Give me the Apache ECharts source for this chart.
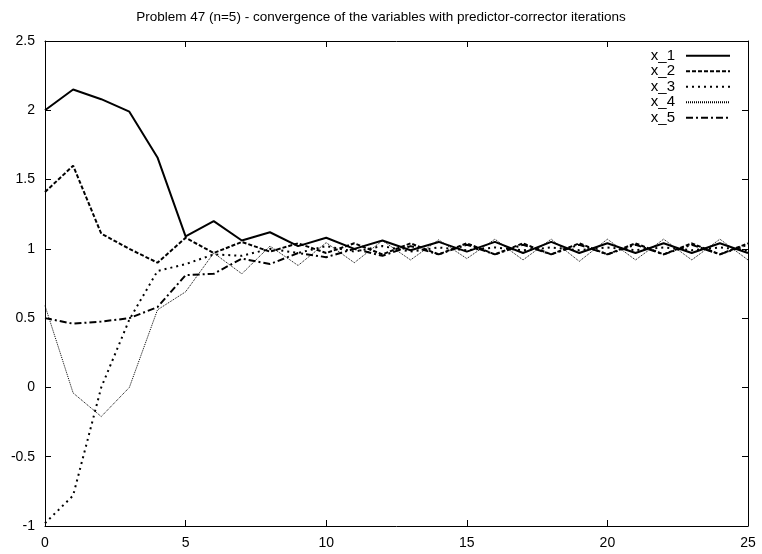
<!DOCTYPE html>
<html>
<head>
<meta charset="utf-8">
<script src="https://cdn.jsdelivr.net/npm/echarts@6/dist/echarts.min.js"></script>
<style>
  html, body { margin: 0; padding: 0; background: #fff; }
  #chart { width: 762px; height: 554px; }
</style>
</head>
<body>
<div id="chart"></div>
<script>
// iteration number
var iters = [0, 1, 2, 3, 4, 5, 6, 7, 8, 9, 10, 11, 12, 13, 14, 15, 16, 17, 18, 19, 20, 21, 22, 23, 24, 25];

// variable values
var x1 = [2.0, 2.15, 2.08, 1.99, 1.66, 1.09, 1.2, 1.06, 1.12, 1.02, 1.08, 1.0, 1.06, 0.99, 1.05, 0.98, 1.05, 0.97, 1.05, 0.97, 1.04, 0.97, 1.04, 0.97, 1.04, 0.97];
var x2 = [1.41, 1.6, 1.11, 1.0, 0.9, 1.08, 0.97, 1.05, 0.98, 1.04, 0.97, 1.04, 0.96, 1.04, 0.96, 1.04, 0.96, 1.04, 0.96, 1.04, 0.96, 1.04, 0.96, 1.04, 0.96, 1.04];
var x3 = [-0.98, -0.78, 0.0, 0.49, 0.84, 0.89, 0.96, 0.95, 1.0, 0.97, 1.02, 0.98, 1.02, 0.98, 1.01, 0.99, 1.01, 0.99, 1.01, 0.99, 1.01, 0.99, 1.01, 0.99, 1.01, 0.99];
var x4 = [0.59, -0.04, -0.21, 0.0, 0.56, 0.69, 0.97, 0.82, 1.02, 0.88, 1.045, 0.9, 1.06, 0.92, 1.065, 0.93, 1.07, 0.92, 1.07, 0.91, 1.07, 0.92, 1.07, 0.92, 1.07, 0.92];
var x5 = [0.5, 0.46, 0.475, 0.5, 0.58, 0.81, 0.82, 0.93, 0.89, 0.97, 0.94, 1.0, 0.95, 1.02, 0.96, 1.03, 0.96, 1.03, 0.96, 1.03, 0.96, 1.03, 0.96, 1.03, 0.96, 1.03];

var names = ['x_1', 'x_2', 'x_3', 'x_4', 'x_5'];

// axis ranges
var xMin = 0, xMax = 25, xStep = 5;
var yMin = -1, yMax = 2.5, yStep = 0.5;

function pairs(ys) {
    var out = [];
    for (var i = 0; i < iters.length; i++) {
        out.push([iters[i], ys[i]]);
    }
    return out;
}

var chart = echarts.init(document.getElementById('chart'), null, { renderer: 'canvas' });

var font = '"Liberation Sans", Arial, sans-serif';

// line style of each variable, gnuplot-like
var styles = [
    { width: 2, type: 'solid' },
    { width: 2, type: [4, 2] },
    { width: 2, type: [2, 4] },
    { width: 1, type: [1, 1] },
    { width: 2, type: [7, 3, 2, 3] }
];

var allData = [x1, x2, x3, x4, x5];
var series = [];
for (var k = 0; k < names.length; k++) {
    series.push({
        name: names[k],
        type: 'line',
        symbol: 'none',
        showSymbol: false,
        animation: false,
        lineStyle: {
            color: '#000',
            width: styles[k].width,
            type: styles[k].type
        },
        itemStyle: { color: '#000' },
        data: pairs(allData[k])
    });
}

// box frame: left/bottom carry labels, top/right are mirrors; ticks point inward
function frameAxis(pos, min, max, interval, labels) {
    return {
        type: 'value',
        position: pos,
        min: min,
        max: max,
        interval: interval,
        splitLine: { show: false },
        axisLine: { show: true, onZero: false, lineStyle: { color: '#000', width: 1 } },
        axisTick: { show: true, inside: true, length: 6, lineStyle: { color: '#000', width: 1 } },
        axisLabel: { show: labels, color: '#000', fontSize: 14, fontFamily: font, margin: 10 }
    };
}

var option = {
    backgroundColor: '#fff',
    animation: false,
    title: {
        text: 'Problem 47 (n=5) - convergence of the variables with predictor-corrector iterations',
        left: 'center',
        top: 5,
        textStyle: { color: '#000', fontSize: 13.5, fontWeight: 'normal', fontFamily: font }
    },
    grid: {
        left: 45,
        right: 14,
        top: 41,
        bottom: 28,
        containLabel: false
    },
    legend: {
        orient: 'vertical',
        right: 26,
        top: 43,
        align: 'right',
        itemWidth: 44,
        itemHeight: 10,
        itemGap: 0,
        itemStyle: { opacity: 0 },
        textStyle: { color: '#000', fontSize: 15, fontFamily: font, lineHeight: 15.5, padding: [0, 6, 0, 0] },
        data: names
    },
    xAxis: [
        frameAxis('bottom', xMin, xMax, xStep, true),
        frameAxis('top', xMin, xMax, xStep, false)
    ],
    yAxis: [
        frameAxis('left', yMin, yMax, yStep, true),
        frameAxis('right', yMin, yMax, yStep, false)
    ],
    series: series
};

chart.setOption(option);
</script>
</body>
</html>
